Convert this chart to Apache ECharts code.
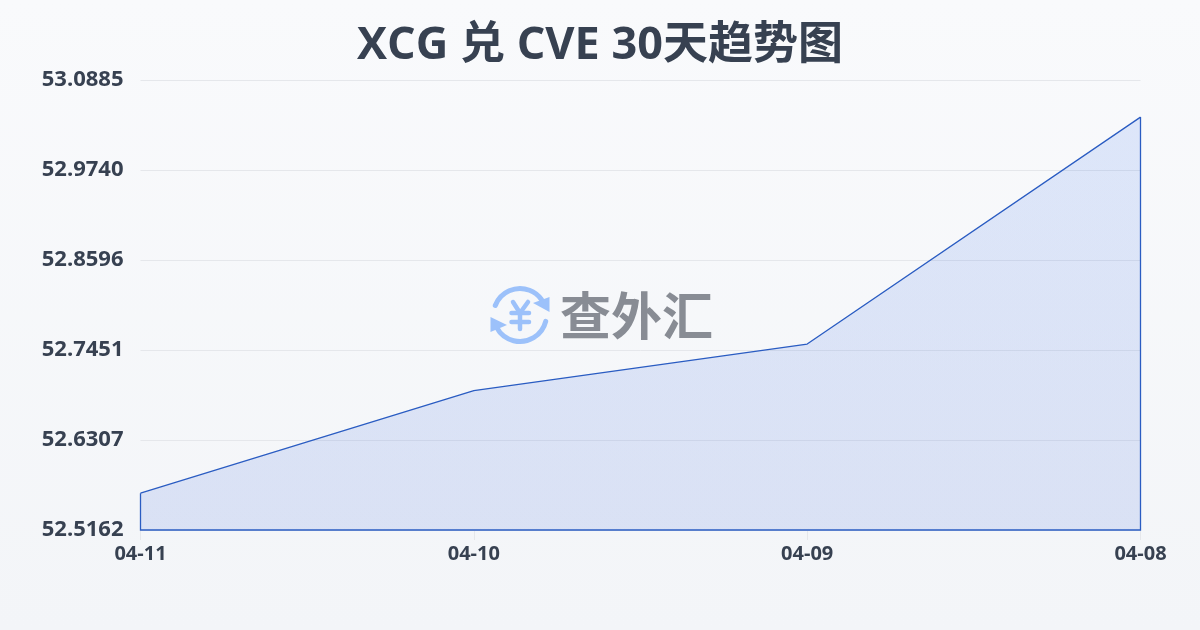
<!DOCTYPE html>
<html><head><meta charset="utf-8">
<style>html,body{margin:0;padding:0;width:1200px;height:630px;overflow:hidden;background:#f6f8fb}#c{width:1200px;height:630px}</style>
<script src="https://cdn.jsdelivr.net/npm/echarts@6/dist/echarts.min.js"></script>
</head><body><div id="c"></div>
<script>
const titleText = 'XCG 兑 CVE 30天趋势图';
const watermarkText = '查外汇';
const categories = ['04-11', '04-10', '04-09', '04-08'];
const values = [52.5630, 52.6935, 52.7527, 53.0413];
const yTicks = [52.5162, 52.6307, 52.7451, 52.8596, 52.9740, 53.0885];
const yMin = 52.5162, yMax = 53.0885;
const FONT = '"Open Sans","Noto Sans CJK SC",sans-serif';
const DARK = '#374151', BLUE = '#2a5cc2', LOGO = '#9cc1fa';

const chart = echarts.init(document.getElementById('c'), null, {renderer:'canvas'});

const d = Math.PI/180;
const lx = 520, ly = 315, r = 26.5;
function arc(a0, a1){ return {type:'arc', shape:{cx:lx,cy:ly,r:r,startAngle:a0*d,endAngle:a1*d,clockwise:true},
  style:{stroke:LOGO,lineWidth:5,fill:null,lineCap:'round'}, silent:true}; }
function tri(p){ return {type:'polygon', shape:{points:p}, style:{fill:LOGO}, silent:true}; }
function seg(x1,y1,x2,y2){ return {type:'line', shape:{x1,y1,x2,y2}, style:{stroke:LOGO,lineWidth:4.5,lineCap:'round'}, silent:true}; }

chart.setOption({
  animation:false,
  backgroundColor:{type:'linear',x:0,y:0,x2:0,y2:1,colorStops:[{offset:0,color:'#f9fafc'},{offset:1,color:'#f3f5f8'}]},
  title:{text:titleText,left:'center',top:19,itemGap:0,
    textStyle:{fontFamily:FONT,fontSize:45,fontWeight:700,color:DARK}},
  grid:{left:140.5,right:59.5,top:80,height:450,containLabel:false},
  xAxis:{type:'category',boundaryGap:false,data:categories,
    axisLine:{show:false},
    axisTick:{show:true,length:10,lineStyle:{color:'#e5e7eb',width:1}},
    axisLabel:{fontFamily:FONT,fontSize:20,fontWeight:700,color:DARK,margin:14,interval:0,hideOverlap:false,alignMinLabel:'center',alignMaxLabel:'center'},
    splitLine:{show:false}},
  yAxis:{type:'value',min:yMin,max:yMax,
    axisLine:{show:false},axisTick:{show:false,customValues:yTicks},
    axisLabel:{customValues:yTicks,fontFamily:FONT,fontSize:22,fontWeight:700,color:DARK,margin:17,
      verticalAlignMinLabel:'middle',verticalAlignMaxLabel:'middle',
      formatter:v=>Number(v).toFixed(4),lineHeight:24,padding:[0,0,6,0]},
    splitLine:{show:true,lineStyle:{color:'#e5e7eb',width:1}}},
  series:[
    {type:'line',data:values,showSymbol:false,symbol:'none',smooth:false,z:3,
      lineStyle:{color:BLUE,width:1.3},
      areaStyle:{origin:'start',color:{type:'linear',x:0,y:0,x2:0,y2:1,colorStops:[
        {offset:0,color:'rgba(37,99,235,0.18)'},{offset:1,color:'rgba(37,84,215,0.18)'}]}}},
    {type:'custom',coordinateSystem:'cartesian2d',z:3,silent:true,
      data:[[0,values[0]]],
      renderItem:(p,api)=>{
        const last=categories.length-1;
        const pts=[api.coord([0,values[0]]),api.coord([0,yMin]),api.coord([last,yMin]),api.coord([last,values[last]])];
        return {type:'polyline',shape:{points:pts},style:{stroke:BLUE,lineWidth:1.3,fill:null}};
      }}
  ],
  graphic:[
    arc(-159,-36),
    arc(14,152),
    tri([[549.5,297],[549.5,312],[533,303]]),
    tri([[490.5,317],[490.5,332],[507,325]]),
    seg(513,302,520,313),seg(528,302,520,313),seg(520,313,520,329),seg(511.5,313,529,313),seg(511.5,322,529,322),
    {type:'text',x:560,y:315.5,style:{text:watermarkText,fontFamily:'"Noto Sans CJK SC",sans-serif',fontSize:51,fontWeight:700,fill:'#888c94',textVerticalAlign:'middle',textAlign:'left'},silent:true}
  ]
});
</script></body></html>
